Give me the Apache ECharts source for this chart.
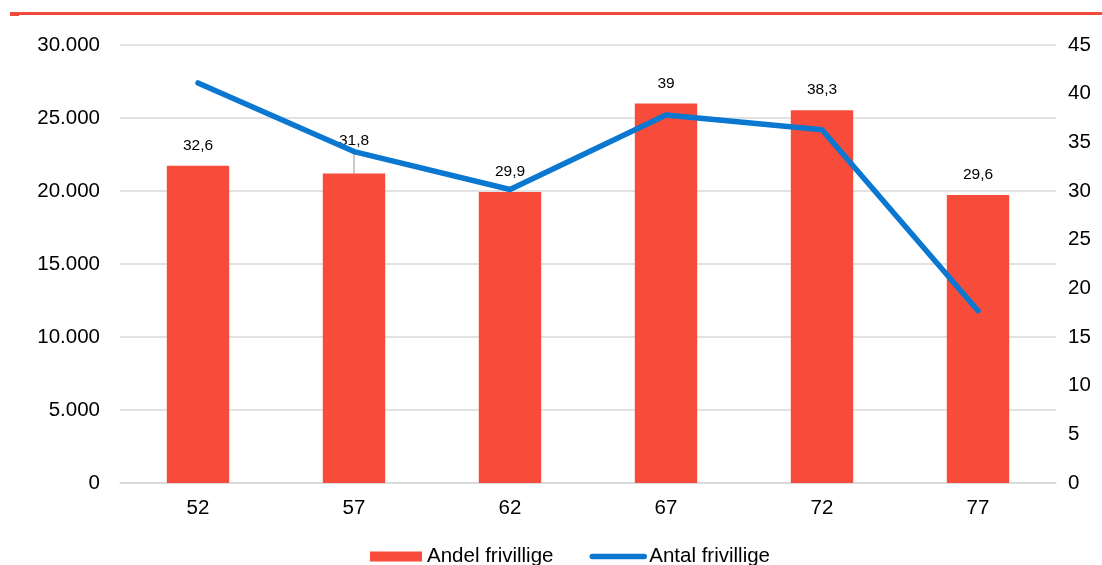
<!DOCTYPE html>
<html>
<head>
<meta charset="utf-8">
<script src="https://cdn.jsdelivr.net/npm/echarts@6/dist/echarts.min.js"></script>
<style>html,body{margin:0;padding:0;background:#fff}#c{width:1102px;height:565px}</style>
</head>
<body>
<div id="c"></div>
<script>
const categories = ['52', '57', '62', '67', '72', '77'];
const andelFrivillige = [32.6, 31.8, 29.9, 39, 38.3, 29.6];
const antalFrivillige = [27400, 22700, 20100, 25200, 24200, 11800];
const leftTicks = { min: 0, max: 30000, interval: 5000 };
const rightTicks = { min: 0, max: 45, interval: 5 };
const movedLabelIndex = 1;

const chart = echarts.init(document.getElementById('c'));
const font = 'Liberation Sans, Arial, sans-serif';
const axisFont = 20.5;
chart.setOption({
  animation: false,
  textStyle: { fontFamily: font },
  graphic: [
    { type: 'rect', shape: { x: 10, y: 12, width: 1092, height: 3 }, style: { fill: '#F04A3A' } },
    { type: 'rect', shape: { x: 10, y: 15, width: 9, height: 1 }, style: { fill: '#F04A3A' } }
  ],
  grid: { left: 120, right: 46, top: 45, bottom: 82 },
  legend: {
    left: 365, top: 541,
    itemWidth: 52, itemHeight: 10, itemGap: 36,
    textStyle: { fontSize: axisFont, color: '#000', fontFamily: font },
    data: [
      { name: 'Andel frivillige', icon: 'rect' },
      { name: 'Antal frivillige', itemStyle: { opacity: 0 },
        lineStyle: { width: 5.5, cap: 'round', color: '#0A77D0' } }
    ]
  },
  xAxis: {
    type: 'category', data: categories,
    axisLine: { lineStyle: { color: '#d9d9d9', width: 1.5 } },
    axisTick: { show: false },
    axisLabel: { fontSize: axisFont, color: '#000', margin: 15, fontFamily: font }
  },
  yAxis: [
    {
      type: 'value', min: leftTicks.min, max: leftTicks.max, interval: leftTicks.interval,
      axisLabel: { fontSize: axisFont, color: '#000', margin: 20, fontFamily: font,
        formatter: v => String(v).replace(/\B(?=(\d{3})+(?!\d))/g, '.') },
      splitLine: { lineStyle: { color: '#d9d9d9', width: 1.5 } },
      axisLine: { show: false }, axisTick: { show: false }
    },
    {
      type: 'value', min: rightTicks.min, max: rightTicks.max, interval: rightTicks.interval,
      position: 'right',
      axisLabel: { fontSize: axisFont, color: '#000', margin: 12, fontFamily: font },
      splitLine: { show: false }, axisLine: { show: false }, axisTick: { show: false }
    }
  ],
  series: [
    {
      name: 'Andel frivillige', type: 'bar', yAxisIndex: 1,
      data: andelFrivillige.map((v, i) => i === movedLabelIndex
        ? { value: v, labelLine: { show: true, lineStyle: { color: '#a6a6a6', width: 1.2 } } }
        : { value: v, labelLine: { show: false } }),
      barWidth: '40%',
      itemStyle: { color: '#F84C3B' },
      label: { show: true, position: 'top', distance: 12, fontSize: 15.5, color: '#000', fontFamily: font,
        formatter: p => String(p.value).replace('.', ',') },
      labelLayout: p => (p.dataIndex === movedLabelIndex ? { dy: -13 } : {})
    },
    {
      name: 'Antal frivillige', type: 'line', yAxisIndex: 0,
      data: antalFrivillige, symbol: 'none',
      lineStyle: { color: '#0A77D0', width: 5.5, cap: 'round', join: 'round' },
      itemStyle: { color: '#0A77D0' }
    }
  ]
});
</script>
</body>
</html>
